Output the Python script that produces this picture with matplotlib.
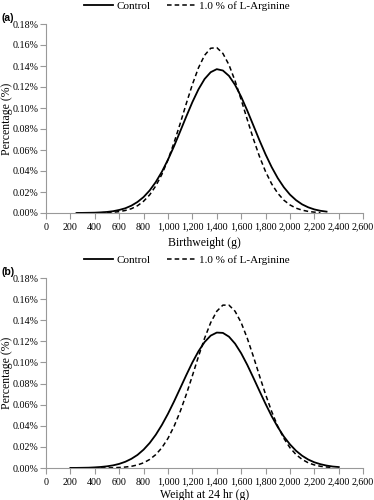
import numpy as np
import matplotlib
matplotlib.use("Agg")
import matplotlib.pyplot as plt
from matplotlib.ticker import FuncFormatter, MultipleLocator

x_a_ctrl = list(range(250, 2301, 50))
y_a_ctrl = [0.0000, 0.0001, 0.0002, 0.0003, 0.0006, 0.0010, 0.0017, 0.0029, 0.0045,
            0.0070, 0.0105, 0.0152, 0.0215, 0.0295, 0.0393, 0.0508, 0.0637, 0.0777,
            0.0919, 0.1056, 0.1178, 0.1276, 0.1341, 0.1370, 0.1357, 0.1306, 0.1220,
            0.1107, 0.0975, 0.0834, 0.0692, 0.0558, 0.0437, 0.0332, 0.0245, 0.0175,
            0.0122, 0.0082, 0.0054, 0.0034, 0.0021, 0.0013]
x_a_arg = list(range(250, 2251, 50))
y_a_arg = [0.0000, 0.0000, 0.0000, 0.0001, 0.0002, 0.0004, 0.0007, 0.0013, 0.0024,
           0.0041, 0.0069, 0.0112, 0.0173, 0.0258, 0.0368, 0.0507, 0.0671, 0.0852,
           0.1042, 0.1224, 0.1383, 0.1502, 0.1569, 0.1575, 0.1520, 0.1411, 0.1258,
           0.1079, 0.0890, 0.0706, 0.0538, 0.0394, 0.0277, 0.0188, 0.0122, 0.0077,
           0.0046, 0.0027, 0.0015, 0.0008, 0.0004]

x_b_ctrl = list(range(200, 2401, 50))
y_b_ctrl = [0.0001, 0.0001, 0.0002, 0.0003, 0.0006, 0.0010, 0.0016, 0.0025, 0.0039,
            0.0059, 0.0087, 0.0124, 0.0174, 0.0237, 0.0315, 0.0408, 0.0514, 0.0631,
            0.0755, 0.0880, 0.1000, 0.1106, 0.1193, 0.1254, 0.1283, 0.1280, 0.1244,
            0.1178, 0.1087, 0.0977, 0.0855, 0.0730, 0.0607, 0.0491, 0.0388, 0.0298,
            0.0224, 0.0163, 0.0116, 0.0080, 0.0054, 0.0036, 0.0023, 0.0014, 0.0009]
x_b_arg = list(range(200, 2351, 50))
y_b_arg = [0.0000, 0.0000, 0.0000, 0.0000, 0.0000, 0.0001, 0.0001, 0.0002, 0.0005,
           0.0009, 0.0016, 0.0029, 0.0049, 0.0081, 0.0127, 0.0192, 0.0281, 0.0395,
           0.0535, 0.0697, 0.0874, 0.1057, 0.1229, 0.1377, 0.1485, 0.1543, 0.1543,
           0.1485, 0.1377, 0.1229, 0.1057, 0.0874, 0.0697, 0.0535, 0.0395, 0.0281,
           0.0192, 0.0127, 0.0081, 0.0049, 0.0029, 0.0016, 0.0009, 0.0005]

labels = ["Control", "1.0 % of L-Arginine"]

plt.rcParams['font.family'] = ['Liberation Serif', 'DejaVu Serif']

fig = plt.figure(figsize=(3.74, 5.0), dpi=100)

panels = [
    ((0.123, 0.574, 0.848, 0.378), x_a_ctrl, y_a_ctrl, x_a_arg, y_a_arg,
     "Birthweight (g)", "(a)", 1 - 6 / 500, 1 - 18 / 500, -0.125),
    ((0.123, 0.064, 0.848, 0.380), x_b_ctrl, y_b_ctrl, x_b_arg, y_b_arg,
     "Weight at 24 hr (g)", "(b)", 1 - 260 / 500, 1 - 272 / 500, -0.112),
]

for rect, xc, yc, xd, yd, xlab, tag, leg_y, tag_y, xlab_y in panels:
    ax = fig.add_axes(rect)
    ax.plot(xc, yc, color='black', lw=1.3, label=labels[0])
    ax.plot(xd, yd, color='black', lw=1.1, linestyle=(0, (3, 2)), label=labels[1])
    ax.set_xlim(0, 2600)
    ax.set_ylim(0, 0.18)
    ax.xaxis.set_major_locator(MultipleLocator(200))
    ax.yaxis.set_major_locator(MultipleLocator(0.02))
    ax.xaxis.set_major_formatter(FuncFormatter(lambda v, p: f"{int(v):,}"))
    ax.yaxis.set_major_formatter(FuncFormatter(lambda v, p: f"{v:.2f}%"))
    for s in ['top', 'right']:
        ax.spines[s].set_visible(False)
    for s in ['left', 'bottom']:
        ax.spines[s].set_color('#999999')
        ax.spines[s].set_linewidth(0.8)
    ax.tick_params(direction='out', length=4, width=0.8, color='#999999',
                   labelsize=7.2)
    ax.tick_params(axis='y', pad=1.5)
    ax.tick_params(axis='x', pad=3)
    ax.set_xlabel(xlab, fontsize=8.5)
    ax.set_ylabel("Percentage (%)", fontsize=8.5)
    ax.xaxis.set_label_coords(0.5, xlab_y)
    ax.yaxis.set_label_coords(-0.104, 0.5)
    ax.legend(loc='center', bbox_to_anchor=(0.5, leg_y), bbox_transform=fig.transFigure,
              ncol=2, frameon=False, fontsize=8, handlelength=2.6, columnspacing=1.5,
              handletextpad=0.3)
    fig.text(0.004, tag_y, tag, fontsize=7.5, fontweight='bold',
             family='Liberation Sans', va='center')

fig.savefig("out.png", dpi=100)
